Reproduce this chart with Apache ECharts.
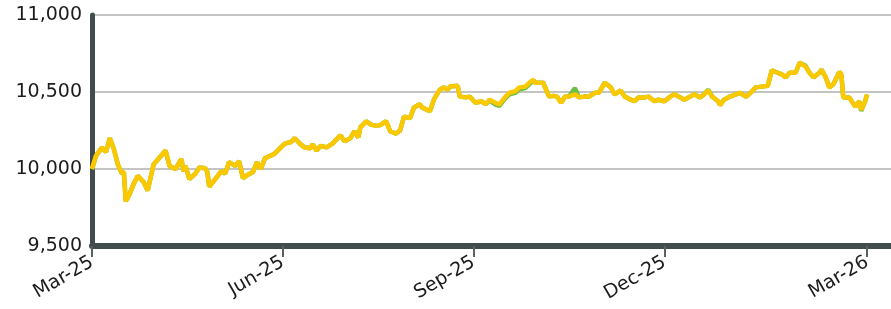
<!DOCTYPE html>
<html>
<head>
<meta charset="utf-8">
<script src="https://cdn.jsdelivr.net/npm/echarts@6/dist/echarts.min.js"></script>
<style>
  html, body { margin: 0; padding: 0; background: #fff; }
  #chart { width: 891px; height: 309px; }
</style>
</head>
<body>
<div id="chart"></div>
<script>
  // x position index (half trading-day steps), quarter ticks
  var tickDays = [0, 96, 192, 288, 390];
  var tickLabels = ['Mar-25', 'Jun-25', 'Sep-25', 'Dec-25', 'Mar-26'];

  var days = [0, 2, 5, 6, 7, 9, 11, 13, 15, 16, 17, 19, 21, 23, 26, 28, 31, 34, 37, 39,
    42, 45, 46, 47, 49, 52, 54, 57, 58, 59, 62, 65, 67, 69, 72, 74, 76, 78, 81, 83,
    85, 87, 92, 93, 97, 100, 102, 105, 107, 110, 111, 113, 115, 118, 121, 124, 125, 127, 130, 132,
    134, 135, 138, 140, 143, 145, 148, 150, 153, 155, 157, 160, 162, 165, 166, 170, 172, 175, 177, 179,
    180, 184, 185, 188, 190, 193, 196, 198, 200, 203, 205, 208, 210, 213, 215, 218, 220, 222, 223, 227,
    228, 230, 232, 234, 236, 238, 240, 243, 245, 248, 250, 253, 255, 258, 261, 263, 266, 268, 271, 273,
    275, 278, 280, 283, 285, 288, 291, 293, 296, 298, 301, 303, 306, 308, 310, 312, 315, 316, 318, 321,
    324, 326, 329, 331, 332, 334, 337, 340, 342, 345, 347, 349, 351, 354, 356, 359, 361, 363, 366, 367,
    369, 371, 373, 376, 377, 378, 381, 382, 384, 386, 387, 389, 390];

  var fundValues = [10000, 10085, 10140, 10150, 10110, 10200, 10130, 10030, 9970, 9985, 9790, 9840, 9905, 9955, 9915, 9860, 10030, 10075, 10120, 10020,
    10000, 10065, 9985, 10020, 9935, 9970, 10010, 10005, 9980, 9885, 9935, 9985, 9970, 10045, 10020, 10050, 9940, 9960, 9980, 10045,
    10000, 10070, 10100, 10115, 10165, 10175, 10200, 10160, 10140, 10135, 10160, 10120, 10150, 10140, 10165, 10205, 10220, 10180, 10200, 10245,
    10205, 10270, 10310, 10290, 10280, 10285, 10310, 10245, 10230, 10250, 10340, 10330, 10400, 10420, 10400, 10375, 10450, 10515, 10530, 10515,
    10535, 10540, 10470, 10465, 10470, 10430, 10440, 10420, 10450, 10430, 10420, 10470, 10495, 10505, 10530, 10535, 10560, 10580, 10560, 10560,
    10570, 10470, 10475, 10470, 10430, 10470, 10470, 10485, 10465, 10470, 10470, 10495, 10495, 10560, 10530, 10485, 10510, 10470, 10450, 10440,
    10465, 10465, 10470, 10440, 10450, 10440, 10470, 10485, 10465, 10450, 10470, 10485, 10465, 10485, 10510, 10470, 10440, 10415, 10450, 10470,
    10485, 10495, 10470, 10490, 10495, 10530, 10535, 10540, 10640, 10625, 10615, 10595, 10625, 10625, 10690, 10665, 10625, 10595, 10625, 10645,
    10600, 10530, 10550, 10630, 10615, 10465, 10465, 10470, 10405, 10440, 10385, 10440, 10485];

  var benchValues = [10000, 10085, 10140, 10150, 10110, 10200, 10130, 10030, 9970, 9985, 9790, 9840, 9905, 9955, 9915, 9860, 10030, 10075, 10120, 10020,
    10000, 10065, 9985, 10020, 9935, 9970, 10010, 10005, 9980, 9885, 9935, 9985, 9970, 10045, 10020, 10050, 9940, 9960, 9980, 10045,
    10000, 10070, 10100, 10115, 10165, 10175, 10200, 10160, 10140, 10135, 10160, 10120, 10150, 10140, 10165, 10205, 10220, 10180, 10200, 10245,
    10205, 10270, 10310, 10290, 10280, 10285, 10310, 10245, 10230, 10250, 10340, 10330, 10400, 10420, 10400, 10375, 10450, 10515, 10530, 10515,
    10535, 10540, 10470, 10465, 10470, 10430, 10440, 10420, 10445, 10418, 10410, 10460, 10485, 10495, 10518, 10525, 10550, 10575, 10560, 10560,
    10570, 10470, 10475, 10470, 10430, 10470, 10470, 10525, 10465, 10470, 10470, 10495, 10495, 10560, 10530, 10485, 10510, 10470, 10450, 10440,
    10465, 10465, 10470, 10440, 10450, 10440, 10470, 10485, 10465, 10450, 10470, 10485, 10465, 10485, 10515, 10470, 10440, 10415, 10450, 10470,
    10485, 10495, 10470, 10490, 10495, 10530, 10535, 10540, 10640, 10625, 10615, 10595, 10625, 10625, 10690, 10670, 10625, 10595, 10625, 10645,
    10600, 10530, 10550, 10630, 10615, 10465, 10465, 10470, 10405, 10440, 10378, 10440, 10485];

  function pairs(xs, ys) {
    var out = [];
    for (var i = 0; i < xs.length; i++) out.push([xs[i], ys[i]]);
    return out;
  }

  var axisColor = '#434c4d';
  var font = 'DejaVu Sans';

  var myChart = echarts.init(document.getElementById('chart'));
  myChart.setOption({
    animation: false,
    grid: {
      left: 92,
      right: 0,
      top: 15,
      bottom: 63,
      outerBoundsMode: 'none'
    },
    xAxis: {
      type: 'value',
      min: 0,
      max: 402,
      splitLine: { show: false },
      axisLine: {
        show: true,
        onZero: false,
        lineStyle: { color: axisColor, width: 6 }
      },
      axisTick: {
        show: true,
        customValues: tickDays,
        length: 11,
        lineStyle: { color: '#5a6161', width: 2 }
      },
      axisLabel: {
        customValues: tickDays,
        rotate: 30,
        margin: 15,
        color: '#1c1c1c',
        fontFamily: font,
        fontSize: 19,
        formatter: function (v) {
          var i = tickDays.indexOf(v);
          return i >= 0 ? tickLabels[i] : '';
        }
      }
    },
    yAxis: {
      type: 'value',
      min: 9500,
      max: 11000,
      interval: 500,
      axisLine: {
        show: true,
        lineStyle: { color: axisColor, width: 5 }
      },
      axisTick: { show: false },
      splitLine: {
        lineStyle: { color: '#c4c4c4', width: 2 }
      },
      axisLabel: {
        margin: 10,
        color: '#1c1c1c',
        fontFamily: font,
        fontSize: 19,
        formatter: function (v) {
          return v.toLocaleString('en-US');
        }
      }
    },
    series: [
      {
        name: 'Benchmark',
        type: 'line',
        showSymbol: false,
        data: pairs(days, benchValues),
        lineStyle: { color: '#6cbf46', width: 4.5 }
      },
      {
        name: 'Fund',
        type: 'line',
        showSymbol: false,
        data: pairs(days, fundValues),
        lineStyle: { color: '#fcc900', width: 4.5 }
      }
    ]
  });
</script>
</body>
</html>
